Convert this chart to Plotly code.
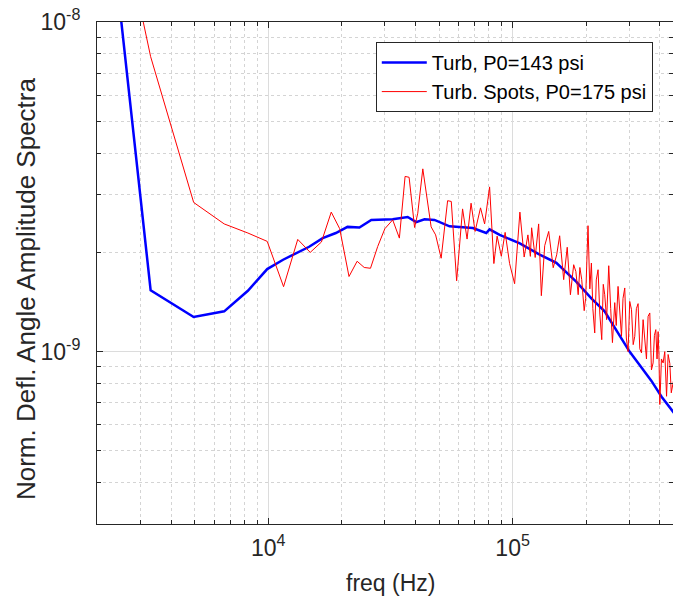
import plotly.graph_objects as go

# Turb, P0=143 psi  (frequency in Hz, amplitude in units of 1e-9)
turb_freq = [1650, 3300, 4950, 6600, 8250, 9900, 11500, 13000, 14700, 16700, 18900,
             21100, 23600, 26400, 32300, 37200, 40300, 43600, 47900, 55200, 68700,
             78000, 80500, 88500, 107000, 129000, 151000, 182000, 210000, 238000,
             265000, 301000, 335000, 370000, 407000, 453000, 470000]
turb_amp = [170, 1.534, 1.274, 1.325, 1.53, 1.78, 1.90, 1.99, 2.08, 2.21, 2.29,
            2.39, 2.38, 2.51, 2.52, 2.56, 2.47, 2.52, 2.51, 2.40, 2.37,
            2.29, 2.35, 2.26, 2.13, 1.97, 1.86, 1.63, 1.45, 1.325,
            1.17, 1.0, 0.90, 0.815, 0.73, 0.66, 0.635]

# Turb. Spots, P0=175 psi
spots_freq = [1650, 3300, 4950, 6600, 8250, 9900, 11550, 13200, 14850, 16500, 18100,
              19600, 21400, 23100, 24700, 26200, 28050, 30000, 32300, 34400, 36300,
              37700, 39700, 40900, 42900, 46400, 48400, 51000, 54200, 56100, 59000,
              62400, 65100, 67600, 70200, 73900, 76800, 80500, 83800, 86400, 89900,
              93200, 97200, 101900, 107100, 111500, 115500, 118200, 119600, 123700,
              127800, 131100, 135300, 140500, 146600, 151500, 155800, 161800, 167300,
              172400, 177800, 181500, 185500, 188500, 191800, 196300, 199000, 203500,
              207000, 210100, 213000, 216800, 220000, 223700, 227500, 231600, 235000,
              238200, 242500, 247400, 252000, 256200, 261800, 265500, 270100, 274500,
              279000, 283000, 287700, 292000, 296900, 301500, 306600, 311500, 316200,
              321000, 326200, 331500, 336900, 342000, 347500, 353000, 358500, 364300,
              370000, 375800, 380500, 385500, 390000, 394000, 397000, 400400, 406500,
              413000, 419500, 426600, 433000, 440000, 446000, 452600, 460000]
spots_amp = [88, 7.85, 2.835, 2.44, 2.29, 2.16, 1.574, 2.19, 2.00, 2.15, 2.65,
             2.36, 1.69, 1.88, 1.80, 1.79, 2.085, 2.36, 2.51, 2.21, 3.40,
             3.38, 2.38, 2.63, 3.585, 2.39, 2.26, 1.92, 2.87, 2.855, 1.64,
             2.71, 2.195, 2.82, 2.315, 2.73, 2.44, 3.16, 1.85, 2.24, 1.947,
             2.30, 1.85, 1.607, 2.65, 1.936, 2.26, 1.945, 2.375, 1.93,
             2.44, 1.478, 2.096, 2.315, 1.797, 1.967, 2.246, 1.653, 2.073,
             1.488, 1.835, 1.75, 1.488, 1.80, 1.653, 1.331, 1.45, 2.41,
             1.55, 1.857, 1.35, 1.139, 1.65, 1.772, 1.30, 1.087, 1.60,
             1.488, 1.25, 1.822, 1.35, 1.065, 1.408, 1.20, 1.577, 1.30,
             1.113, 1.45, 1.56, 1.10, 1.0, 1.42, 1.34, 1.05, 1.113,
             1.35, 1.398, 1.02, 0.991, 1.25, 1.113, 0.95, 1.28, 1.31,
             0.88, 0.924, 1.12, 1.166, 0.95, 1.15, 0.98, 0.691, 0.95,
             0.924, 1.0, 0.732, 0.98, 0.92, 0.75, 0.804, 0.85]

# axis ticks
x_major = [1e4, 1e5]
x_major_text = ["10<sup>4</sup>", "10<sup>5</sup>"]
x_minor = [2e3, 3e3, 4e3, 5e3, 6e3, 7e3, 8e3, 9e3,
           2e4, 3e4, 4e4, 5e4, 6e4, 7e4, 8e4, 9e4,
           2e5, 3e5, 4e5]
y_major = [1e-9, 1e-8]
y_major_text = ["10<sup>-9</sup>", "10<sup>-8</sup>"]
y_minor = [4e-10, 5e-10, 6e-10, 7e-10, 8e-10, 9e-10,
           2e-9, 3e-9, 4e-9, 5e-9, 6e-9, 7e-9, 8e-9, 9e-9]

SCALE = 1e-9
FONT = "Liberation Sans, Arial, sans-serif"
TXT = "#262626"

fig = go.Figure()
fig.add_trace(go.Scatter(x=turb_freq, y=[a * SCALE for a in turb_amp], mode="lines",
                         name="Turb, P0=143 psi",
                         line=dict(color="#0000FF", width=2.5)))
fig.add_trace(go.Scatter(x=spots_freq, y=[a * SCALE for a in spots_amp], mode="lines",
                         name="Turb. Spots, P0=175 psi",
                         line=dict(color="#FF0000", width=1)))

axis_common = dict(
    type="log", tickmode="array",
    showline=True, linecolor=TXT, linewidth=1, mirror="ticks",
    ticks="inside", ticklen=6, tickcolor=TXT,
    showgrid=True, gridcolor="#dcdcdc", gridwidth=1,
    zeroline=False,
    tickfont=dict(family=FONT, size=23, color=TXT),
)
minor_common = dict(tickmode="array", ticks="inside", ticklen=4, tickcolor=TXT,
                    showgrid=True, gridcolor="#d4d4d4", griddash="dot", gridwidth=1)

fig.update_xaxes(**axis_common, range=[3.299, 5.6564], ticklabelstandoff=3,
                 tickvals=x_major, ticktext=x_major_text,
                 minor=dict(**minor_common, tickvals=x_minor))
fig.update_yaxes(**axis_common, range=[-9.523, -8.0], ticklabelstandoff=11,
                 tickvals=y_major, ticktext=y_major_text,
                 minor=dict(**minor_common, tickvals=y_minor))

fig.add_annotation(text="freq (Hz)", xref="paper", yref="paper",
                   x=0.5087, y=-0.1175, xanchor="center", yanchor="middle",
                   showarrow=False, font=dict(family=FONT, size=23, color=TXT))
fig.add_annotation(text="Norm. Defl. Angle Amplitude Spectra", xref="paper", yref="paper",
                   x=-0.1233, y=0.470, xanchor="center", yanchor="middle", textangle=-90,
                   showarrow=False, font=dict(family=FONT, size=26, color=TXT))

fig.update_layout(
    width=673, height=598,
    margin=dict(l=97, r=0, t=22, b=74),
    paper_bgcolor="white", plot_bgcolor="white",
    showlegend=True,
    legend=dict(x=0.484, y=0.96, xanchor="left", yanchor="top",
                bgcolor="white", bordercolor=TXT, borderwidth=1,
                font=dict(family=FONT, size=20, color="#000000"),
                itemwidth=45, tracegroupgap=0),
)

fig.write_html("out.html", config={"displayModeBar": False},
               post_script="document.body.style.margin='0';"
                           "document.body.style.overflow='hidden';")
